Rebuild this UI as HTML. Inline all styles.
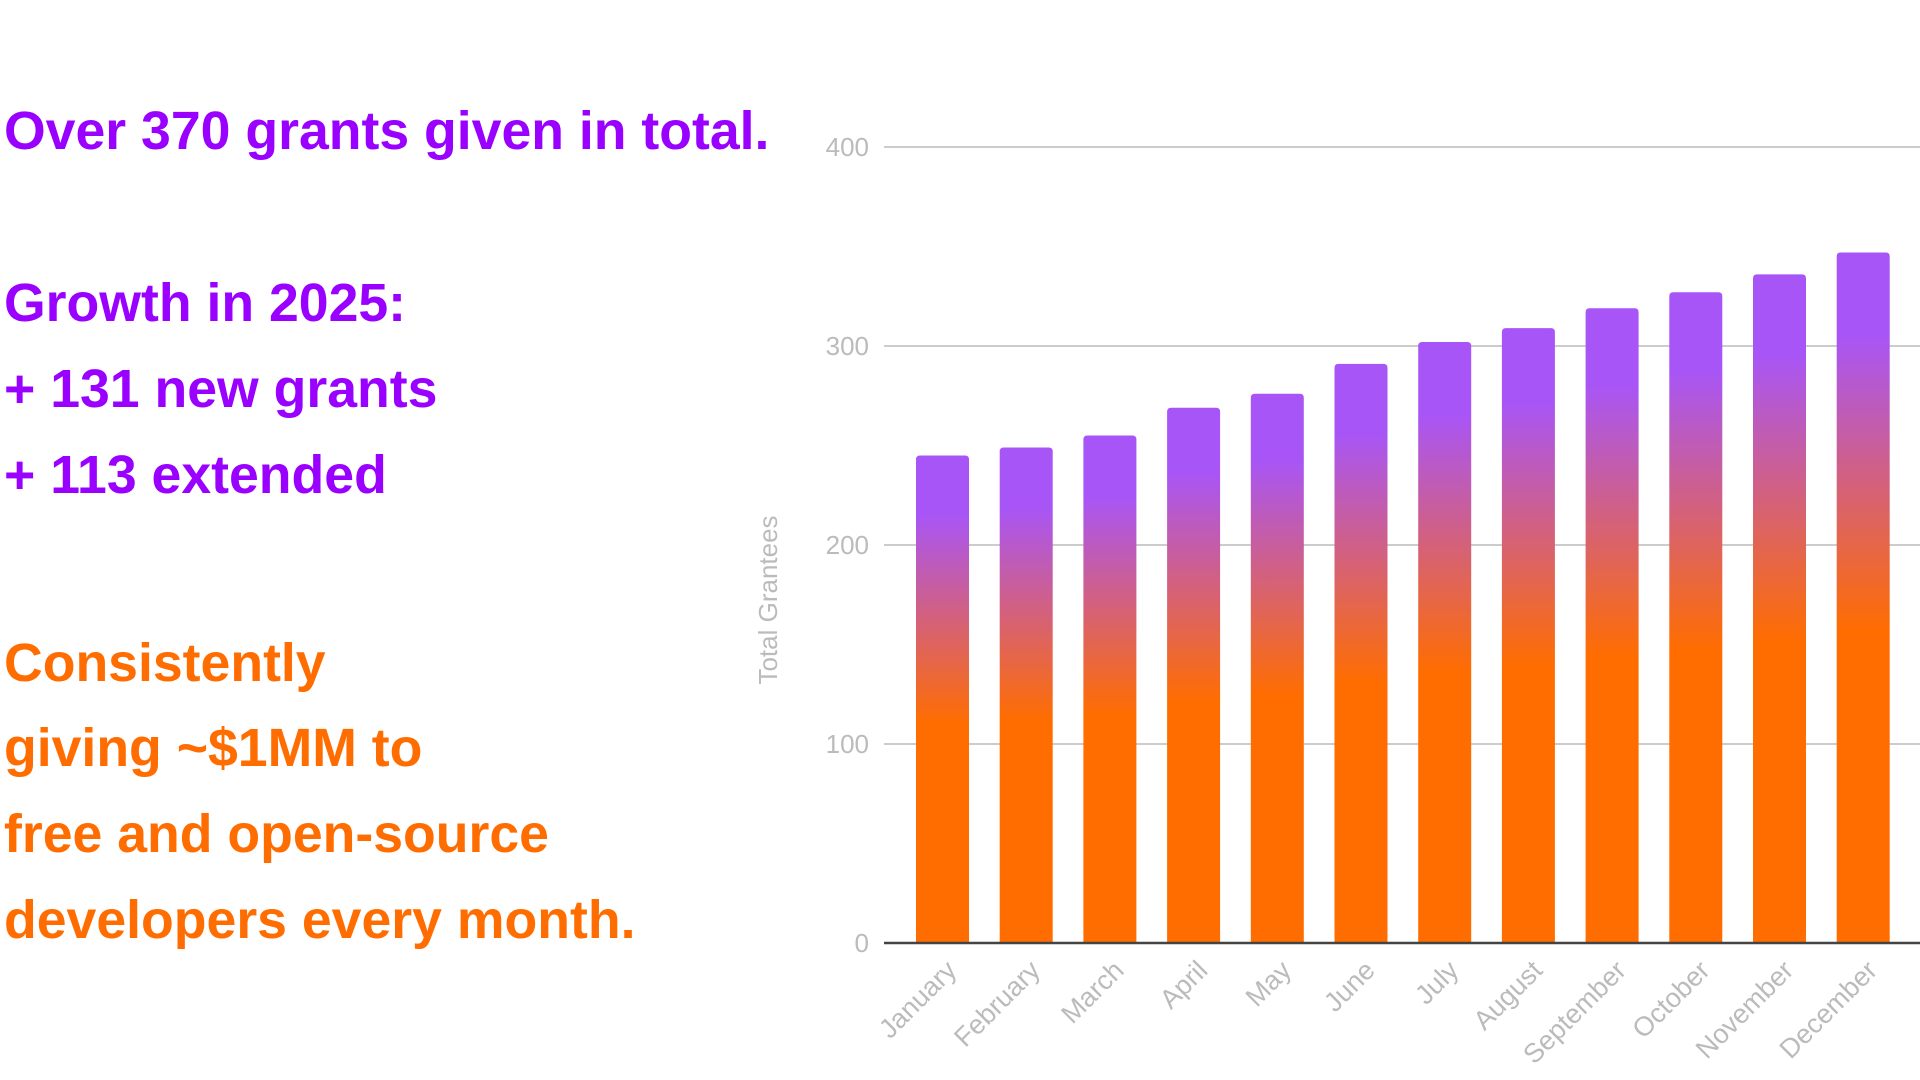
<!DOCTYPE html>
<html><head><meta charset="utf-8"><style>
body{margin:0;width:1920px;height:1080px;background:#fff;overflow:hidden;position:relative;font-family:"Liberation Sans",Arial,sans-serif}
.t{position:absolute;left:4px;font-weight:bold;font-size:53.6px;white-space:nowrap;line-height:1}
.p{color:#9900ff}.o{color:#ff6d00}
</style></head><body>
<div class="t p" style="top:105px">Over 370 grants given in total.</div>
<div class="t p" style="top:277px">Growth in 2025:</div>
<div class="t p" style="top:363px">+ 131 new grants</div>
<div class="t p" style="top:449px">+ 113 extended</div>
<div class="t o" style="top:637px">Consistently</div>
<div class="t o" style="top:722px">giving ~$1MM to</div>
<div class="t o" style="top:808px">free and open-source</div>
<div class="t o" style="top:894px">developers every month.</div>
<svg width="1920" height="1080" style="position:absolute;left:0;top:0" font-family="Liberation Sans, Arial, sans-serif">
<defs><linearGradient id="g" x1="0" y1="0" x2="0" y2="1">
<stop offset="0" stop-color="#a855f7"/><stop offset="0.12" stop-color="#a855f7"/><stop offset="0.55" stop-color="#ff6d00"/><stop offset="1" stop-color="#ff6d00"/></linearGradient></defs>
<g stroke="#cccccc" stroke-width="2">
<line x1="884" y1="147" x2="1920" y2="147"/><line x1="884" y1="346" x2="1920" y2="346"/><line x1="884" y1="545" x2="1920" y2="545"/><line x1="884" y1="744" x2="1920" y2="744"/></g>
<g fill="#bbbbbb" font-size="26" text-anchor="end">
<text x="869" y="156">400</text><text x="869" y="355">300</text><text x="869" y="554">200</text><text x="869" y="753">100</text><text x="869" y="952">0</text></g>
<text transform="translate(777,600) rotate(-90)" fill="#bbbbbb" font-size="26" text-anchor="middle">Total Grantees</text>
<g id="bars"></g>
<line x1="884" y1="943" x2="1920" y2="943" stroke="#444" stroke-width="2.5"/>
<g id="labs" fill="#bbbbbb" font-size="27" text-anchor="end"></g>
</svg>
<script>
var v=[245,249,255,269,276,291,302,309,319,327,336,347],m=["January","February","March","April","May","June","July","August","September","October","November","December"];
var b=document.getElementById("bars"),l=document.getElementById("labs"),ns="http://www.w3.org/2000/svg";
for(var i=0;i<12;i++){var x=916+i*83.7,h=v[i]*1.99,y=943-h;
var p=document.createElementNS(ns,"path");
p.setAttribute("d","M"+x+","+943+"V"+(y+4)+"Q"+x+","+y+" "+(x+4)+","+y+"H"+(x+49)+"Q"+(x+53)+","+y+" "+(x+53)+","+(y+4)+"V943Z");
p.setAttribute("fill","url(#g)");b.appendChild(p);
var t=document.createElementNS(ns,"text");var cx=x+26+16;
t.setAttribute("transform","translate("+cx+",972) rotate(-45)");t.textContent=m[i];l.appendChild(t);}
</script>
</body></html>
